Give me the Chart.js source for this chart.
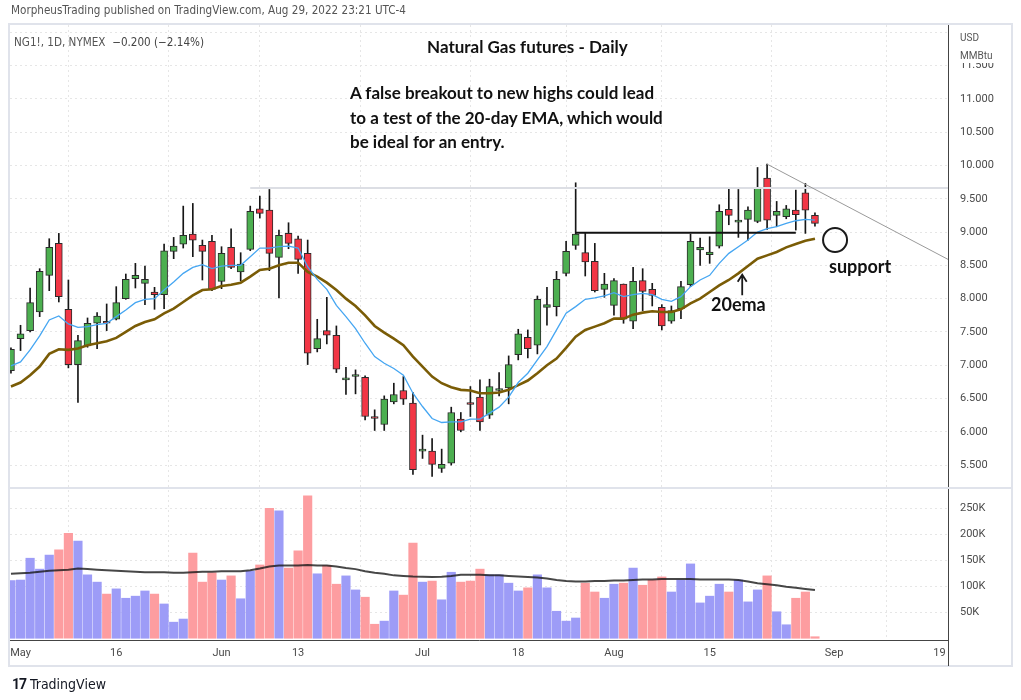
<!DOCTYPE html>
<html>
<head>
<meta charset="utf-8">
<title>Natural Gas futures - Daily</title>
<script src="https://cdn.jsdelivr.net/npm/chart.js@4.4.0/dist/chart.umd.min.js"></script>
<style>
  html, body { margin: 0; padding: 0; background: #fff; }
  #wrap { position: relative; width: 1021px; height: 700px; overflow: hidden; }
  #ngChart { position: absolute; left: 0; top: 0; }
  .txt { position: absolute; white-space: nowrap; line-height: 1; }
  .tv { font-family: 'Liberation Sans Narrow', 'DejaVu Sans Condensed', Roboto, sans-serif; color: #555; }
  .note { font-family: Lato, 'Open Sans', sans-serif; font-weight: bold; color: #111; }
  .unit { font-family: Roboto, sans-serif; font-size: 10px; color: #555; background: #fff; left: 960px; width: 45px; }
</style>
</head>
<body>
<div id="wrap">
  <canvas id="ngChart" width="1021" height="700"></canvas>

  <div class="txt tv" style="left:11px; top:5px; font-size:11.6px;">MorpheusTrading published on TradingView.com, Aug 29, 2022 23:21 UTC-4</div>
  <div class="txt tv" style="left:14px; top:37px; font-size:11.6px;">NG1!, 1D, NYMEX&nbsp; <span style="color:#444">−0.200 (−2.14%)</span></div>

  <div class="txt note" style="left:427px; top:38px; font-size:17px;">Natural Gas futures - Daily</div>
  <div class="txt note" style="left:350px; top:81px; font-size:17px; line-height:24.5px;">A false breakout to new highs could lead<br>to a test of the 20-day EMA, which would<br>be ideal for an entry.</div>
  <div class="txt note" style="left:829px; top:257px; font-size:18px;">support</div>
  <div class="txt note" style="left:711px; top:295px; font-size:18px;">20ema</div>

  <div class="txt unit" style="top:33px; height:14px;">USD</div>
  <div class="txt unit" style="top:51px; height:12px;">MMBtu</div>

  <div class="txt tv" style="left:12px; top:677px; font-size:14px; color:#131722;"><b style="font-family:Roboto, sans-serif; letter-spacing:-1px;">17</b> TradingView</div>
</div>

<script>
// bar dates (Apr 29 - Aug 30, 2022), one per trading day
var dates = ['Apr 29',
  'May 2', 'May 3', 'May 4', 'May 5', 'May 6', 'May 9', 'May 10', 'May 11', 'May 12', 'May 13',
  'May 16', 'May 17', 'May 18', 'May 19', 'May 20', 'May 23', 'May 24', 'May 25', 'May 26', 'May 27', 'May 31',
  'Jun 1', 'Jun 2', 'Jun 3', 'Jun 6', 'Jun 7', 'Jun 8', 'Jun 9', 'Jun 10', 'Jun 13', 'Jun 14', 'Jun 15', 'Jun 16', 'Jun 17',
  'Jun 21', 'Jun 22', 'Jun 23', 'Jun 24', 'Jun 27', 'Jun 28', 'Jun 29', 'Jun 30',
  'Jul 1', 'Jul 5', 'Jul 6', 'Jul 7', 'Jul 8', 'Jul 11', 'Jul 12', 'Jul 13', 'Jul 14', 'Jul 15',
  'Jul 18', 'Jul 19', 'Jul 20', 'Jul 21', 'Jul 22', 'Jul 25', 'Jul 26', 'Jul 27', 'Jul 28', 'Jul 29',
  'Aug 1', 'Aug 2', 'Aug 3', 'Aug 4', 'Aug 5', 'Aug 8', 'Aug 9', 'Aug 10', 'Aug 11', 'Aug 12',
  'Aug 15', 'Aug 16', 'Aug 17', 'Aug 18', 'Aug 19', 'Aug 22', 'Aug 23', 'Aug 24', 'Aug 25', 'Aug 26', 'Aug 29', 'Aug 30'];

var opens = [6.92,
  7.40, 7.52, 7.80, 8.35, 8.83, 7.84, 7.01, 7.29, 7.63, 7.66,
  7.69, 8.00, 8.30, 8.23, 8.10, 8.06, 8.71, 8.82, 8.97, 8.80, 8.86,
  8.26, 8.77, 8.40, 8.74, 9.35, 9.33, 8.62, 8.98, 8.90, 8.68, 7.25, 7.52, 7.45,
  6.78, 6.83, 6.82, 6.23, 6.11, 6.45, 6.62, 6.43,
  5.71, 5.71, 5.45, 5.53, 6.19, 6.44, 6.52, 6.25, 6.62, 6.66,
  7.16, 7.42, 7.30, 7.87, 7.88, 8.38, 8.80, 8.69, 8.56, 8.14,
  7.90, 8.22, 7.66, 8.27, 8.14, 7.87, 7.66, 7.85, 8.21, 8.73,
  8.66, 8.79, 9.34, 9.15, 9.19, 9.16, 9.81, 9.25, 9.23, 9.33, 9.59, 9.25];
var highs = [7.26,
  7.60, 8.16, 8.45, 8.90, 8.98, 8.28, 7.45, 7.71, 7.79, 7.92,
  8.18, 8.37, 8.53, 8.49, 8.17, 8.82, 8.92, 9.39, 9.43, 8.88, 8.95,
  8.78, 9.05, 8.69, 9.39, 9.54, 9.64, 9.03, 9.14, 8.94, 8.88, 7.69, 8.02, 7.59,
  6.97, 6.93, 6.84, 6.33, 6.54, 6.73, 6.83, 6.59,
  5.95, 5.90, 5.74, 6.37, 6.29, 6.68, 6.78, 6.79, 6.89, 7.14,
  7.54, 7.53, 8.04, 8.17, 8.41, 8.86, 9.74, 8.98, 8.83, 8.38,
  8.30, 8.22, 8.47, 8.45, 8.23, 7.91, 7.89, 8.26, 8.97, 8.91,
  8.93, 9.41, 9.66, 9.64, 9.38, 9.97, 10.02, 9.46, 9.40, 9.63, 9.73, 9.29];
var lows = [6.88,
  7.22, 7.50, 7.73, 8.12, 7.95, 6.96, 6.44, 7.27, 7.25, 7.52,
  7.68, 7.99, 8.16, 7.91, 7.84, 7.85, 8.60, 8.76, 8.63, 8.28, 8.12,
  8.15, 8.45, 8.27, 8.72, 9.21, 8.42, 8.01, 8.75, 8.38, 7.01, 7.20, 7.32, 6.89,
  6.56, 6.57, 6.18, 6.02, 6.02, 6.42, 6.41, 5.36,
  5.60, 5.33, 5.39, 5.50, 6.00, 6.23, 6.02, 6.20, 6.54, 6.42,
  7.08, 7.11, 7.17, 7.60, 7.74, 8.34, 8.74, 8.34, 8.10, 8.02,
  7.75, 7.63, 7.55, 7.82, 7.89, 7.53, 7.63, 7.70, 8.18, 8.50,
  8.53, 8.76, 9.11, 8.92, 8.88, 9.14, 9.04, 9.08, 9.20, 9.03, 8.98, 9.09];
var closes = [7.24,
  7.47, 7.94, 8.41, 8.77, 8.03, 7.01, 7.37, 7.63, 7.74, 7.63,
  7.94, 8.29, 8.35, 8.29, 8.06, 8.72, 8.79, 8.95, 8.88, 8.71, 8.14,
  8.68, 8.47, 8.52, 9.31, 9.28, 8.68, 8.95, 8.83, 8.59, 7.18, 7.40, 7.45, 6.94,
  6.81, 6.86, 6.23, 6.20, 6.49, 6.56, 6.49, 5.43,
  5.74, 5.51, 5.51, 6.29, 6.02, 6.41, 6.15, 6.68, 6.65, 7.01,
  7.47, 7.25, 7.99, 7.91, 8.29, 8.71, 8.97, 8.55, 8.12, 8.22,
  8.27, 7.69, 8.26, 8.11, 8.05, 7.59, 7.82, 8.18, 8.86, 8.77,
  8.70, 9.31, 9.25, 9.18, 9.33, 9.67, 9.18, 9.31, 9.35, 9.26, 9.33, 9.13];

// volume in thousands of contracts
var volumes = [111,
  112, 154, 133, 160, 170, 202, 187, 122, 108, 85,
  95, 77, 81, 91, 85, 66, 31, 37, 164, 108, 126,
  112, 120, 76, 129, 141, 250, 245, 135, 168, 274, 124, 140, 104,
  120, 93, 79, 27, 33, 91, 83, 183,
  108, 110, 74, 127, 108, 110, 133, 122, 122, 106,
  91, 97, 122, 97, 52, 33, 39, 106, 89, 77,
  104, 106, 135, 102, 112, 118, 89, 112, 143, 68,
  81, 104, 89, 112, 70, 93, 120, 51, 26, 77, 89, 3];

var ema10 = [6.99,
  7.05, 7.23, 7.44, 7.68, 7.74, 7.62, 7.57, 7.58, 7.61, 7.63,
  7.73, 7.83, 7.94, 7.99, 8.00, 8.13, 8.25, 8.38, 8.47, 8.51, 8.45,
  8.49, 8.50, 8.50, 8.63, 8.76, 8.76, 8.78, 8.79, 8.76, 8.48, 8.29, 8.14, 7.90,
  7.73, 7.55, 7.33, 7.13, 7.03, 6.95, 6.85, 6.58,
  6.38, 6.20, 6.14, 6.15, 6.15, 6.19, 6.19, 6.28, 6.37, 6.52,
  6.74, 6.88, 7.08, 7.28, 7.53, 7.78, 7.88, 7.99, 8.01, 8.04,
  8.09, 8.03, 8.06, 8.08, 8.06, 7.99, 7.96, 8.03, 8.18, 8.28,
  8.35, 8.53, 8.68, 8.78, 8.88, 9.00, 9.05, 9.08, 9.13, 9.17, 9.19, 9.18];
var ema20 = [6.68,
  6.74, 6.85, 6.98, 7.17, 7.24, 7.23, 7.25, 7.30, 7.33, 7.36,
  7.41, 7.50, 7.59, 7.65, 7.69, 7.78, 7.85, 7.95, 8.05, 8.13, 8.14,
  8.19, 8.21, 8.24, 8.33, 8.43, 8.45, 8.50, 8.54, 8.54, 8.40, 8.33, 8.24, 8.13,
  8.00, 7.89, 7.75, 7.59, 7.49, 7.40, 7.30, 7.13,
  6.98, 6.83, 6.73, 6.67, 6.63, 6.62, 6.58, 6.58, 6.59, 6.63,
  6.70, 6.77, 6.88, 7.00, 7.10, 7.26, 7.43, 7.53, 7.58, 7.63,
  7.70, 7.70, 7.76, 7.79, 7.81, 7.80, 7.80, 7.84, 7.93, 8.00,
  8.10, 8.20, 8.28, 8.38, 8.49, 8.60, 8.65, 8.70, 8.77, 8.82, 8.87, 8.90];
var volumeMa = [124,
  125, 126, 128, 130, 131, 132, 134, 133, 132, 131,
  130, 129, 128, 127, 127, 127, 126, 126, 127, 128, 128,
  129, 129, 129, 131, 134, 138, 140, 140, 140, 141, 140, 140, 138,
  135, 133, 129, 126, 124, 121, 120, 119,
  118.5, 118, 118.5, 120, 122, 122, 122, 121, 121, 120,
  119, 118, 117, 115, 112, 110, 109, 109, 110, 110,
  111, 111, 112, 113, 113, 114, 114, 114, 114, 113,
  113, 113, 113, 112, 109, 106, 104, 102, 99, 97, 95, 93];

// axis ticks
var tickIndex = [1, 11, 22, 30, 43, 53, 63, 73, 86, 97];
var tickLabels = ['May', '16', 'Jun', '13', 'Jul', '18', 'Aug', '15', 'Sep', '19'];
var priceTicks = [5.5, 6, 6.5, 7, 7.5, 8, 8.5, 9, 9.5, 10, 10.5, 11, 11.5, 12];
var volumeTicks = [50, 100, 150, 200, 250];

// drawings (bar index, price)
var resistance = { from: 25, price: 9.66 };
var breakout = { from: 59, to: 82, price: 8.99 };
var trendline = { x1: 79, y1: 10.02, x2: 97.9, y2: 8.59 };
var supportMark = { x: 86.1, price: 8.88 };
var emaArrow = { x: 76.4, from: 8.05, to: 8.36 };

var idx = dates.map(function (d, i) { return i; });
var up = idx.map(function (i) { return closes[i] >= opens[i]; });

var chartDrawings = {
    id: 'chartDrawings',
    afterDatasetsDraw: function (chart) {
        var ctx = chart.ctx, a = chart.chartArea;
        var x = chart.scales.x, y = chart.scales.y, yv = chart.scales.yVol;
        ctx.save();
        ctx.beginPath();
        ctx.rect(a.left, y.top, a.right - a.left, y.bottom - y.top);
        ctx.clip();

        ctx.strokeStyle = '#dcdee4';
        ctx.lineWidth = 2;
        ctx.beginPath();
        ctx.moveTo(x.getPixelForValue(resistance.from), y.getPixelForValue(resistance.price));
        ctx.lineTo(a.right, y.getPixelForValue(resistance.price));
        ctx.stroke();

        ctx.strokeStyle = '#111';
        ctx.lineWidth = 2;
        ctx.beginPath();
        ctx.moveTo(x.getPixelForValue(breakout.from), y.getPixelForValue(breakout.price));
        ctx.lineTo(x.getPixelForValue(breakout.to), y.getPixelForValue(breakout.price));
        ctx.stroke();

        ctx.strokeStyle = '#9a9a9a';
        ctx.lineWidth = 1;
        ctx.beginPath();
        ctx.moveTo(x.getPixelForValue(trendline.x1), y.getPixelForValue(trendline.y1));
        ctx.lineTo(x.getPixelForValue(trendline.x2), y.getPixelForValue(trendline.y2));
        ctx.stroke();

        ctx.strokeStyle = '#1a1a1a';
        ctx.lineWidth = 2;
        ctx.beginPath();
        ctx.arc(x.getPixelForValue(supportMark.x), y.getPixelForValue(supportMark.price), 12, 0, Math.PI * 2);
        ctx.stroke();

        var ax = x.getPixelForValue(emaArrow.x);
        var ay1 = y.getPixelForValue(emaArrow.from), ay2 = y.getPixelForValue(emaArrow.to);
        ctx.lineWidth = 1.8;
        ctx.beginPath();
        ctx.moveTo(ax, ay1);
        ctx.lineTo(ax, ay2);
        ctx.moveTo(ax - 4.5, ay2 + 7);
        ctx.lineTo(ax, ay2);
        ctx.lineTo(ax + 4.5, ay2 + 7);
        ctx.stroke();
        ctx.restore();

        // pane separator, frame, axis line through the date row
        ctx.save();
        ctx.strokeStyle = '#e0e3eb';
        ctx.lineWidth = 2;
        ctx.beginPath();
        ctx.moveTo(a.left, yv.top);
        ctx.lineTo(1012, yv.top);
        ctx.stroke();
        ctx.strokeRect(9, 24, 1003, 642);
        ctx.strokeStyle = '#444';
        ctx.lineWidth = 1;
        ctx.beginPath();
        ctx.moveTo(Math.round(a.right) + 0.5, a.bottom);
        ctx.lineTo(Math.round(a.right) + 0.5, 666);
        ctx.stroke();
        ctx.restore();
    }
};

var gridStyle = { color: '#e6e6e6', lineWidth: 1, drawTicks: false };
var tickFont = { family: 'Roboto, sans-serif', size: 11 };

var ctx = document.getElementById('ngChart').getContext('2d');
var myChart = new Chart(ctx, {
    type: 'bar',
    data: {
        datasets: [{
            type: 'line',
            label: 'EMA 10',
            data: idx.map(function (i) { return { x: i, y: ema10[i] }; }),
            borderColor: '#45a6f2',
            borderWidth: 1.3,
            pointRadius: 0,
            tension: 0,
            yAxisID: 'y',
            order: 1,
            clip: 0
        }, {
            type: 'line',
            label: 'EMA 20',
            data: idx.map(function (i) { return { x: i, y: ema20[i] }; }),
            borderColor: '#7a5c06',
            borderWidth: 2.6,
            pointRadius: 0,
            tension: 0,
            yAxisID: 'y',
            order: 2,
            clip: 0
        }, {
            label: 'Body',
            data: idx.map(function (i) { return { x: i, y: [opens[i], closes[i]] }; }),
            backgroundColor: up.map(function (u) { return u ? '#4caf50' : '#f23645'; }),
            borderColor: '#2b2b2b',
            borderWidth: 1,
            borderSkipped: false,
            barThickness: 7,
            minBarLength: 2,
            grouped: false,
            yAxisID: 'y',
            order: 3,
            clip: 0
        }, {
            label: 'Wick',
            data: idx.map(function (i) { return { x: i, y: [lows[i], highs[i]] }; }),
            backgroundColor: '#161616',
            borderWidth: 0,
            barThickness: 1,
            grouped: false,
            yAxisID: 'y',
            order: 4,
            clip: 0
        }, {
            type: 'line',
            label: 'Volume MA',
            data: idx.map(function (i) { return { x: i, y: volumeMa[i] }; }),
            borderColor: 'rgba(25, 25, 25, 0.8)',
            borderWidth: 2,
            pointRadius: 0,
            yAxisID: 'yVol',
            order: 5,
            clip: 0
        }, {
            label: 'Volume',
            data: idx.map(function (i) { return { x: i, y: volumes[i] }; }),
            backgroundColor: up.map(function (u) { return u ? '#9d9cf7' : '#fd9da0'; }),
            barThickness: 8.5,
            grouped: false,
            yAxisID: 'yVol',
            order: 6,
            clip: 0
        }]
    },
    options: {
        responsive: false,
        animation: false,
        events: [],
        layout: { padding: { left: 10, top: 25, right: 9, bottom: 35 } },
        plugins: { legend: { display: false }, tooltip: { enabled: false } },
        scales: {
            x: {
                type: 'linear',
                min: -0.1,
                max: 97.9,
                offset: false,
                afterBuildTicks: function (s) { s.ticks = tickIndex.map(function (v) { return { value: v }; }); },
                afterFit: function (s) { s.height = 25; },
                ticks: {
                    autoSkip: false,
                    maxRotation: 0,
                    padding: 7,
                    color: '#4a4a4a',
                    font: tickFont,
                    callback: function (v, i) { return tickLabels[i]; }
                },
                grid: gridStyle,
                border: { color: '#444', width: 1, dash: [2, 3] }
            },
            y: {
                type: 'linear',
                position: 'right',
                stack: 'panes',
                stackWeight: 463,
                min: 5.156,
                max: 12.11,
                afterBuildTicks: function (s) { s.ticks = priceTicks.map(function (v) { return { value: v }; }); },
                afterFit: function (s) { s.width = 64; },
                ticks: {
                    padding: 12,
                    color: '#4a4a4a',
                    font: tickFont,
                    callback: function (v) { return v >= 12 ? '' : v.toFixed(3); }
                },
                grid: gridStyle,
                border: { color: '#444', width: 1, dash: [2, 3] }
            },
            yVol: {
                type: 'linear',
                position: 'right',
                stack: 'panes',
                stackWeight: 152,
                min: -3.3,
                max: 289,
                afterBuildTicks: function (s) { s.ticks = volumeTicks.map(function (v) { return { value: v }; }); },
                afterFit: function (s) { s.width = 64; },
                ticks: {
                    padding: 12,
                    color: '#4a4a4a',
                    font: tickFont,
                    callback: function (v) { return v + 'K'; }
                },
                grid: gridStyle,
                border: { color: '#444', width: 1, dash: [2, 3] }
            }
        }
    },
    plugins: [chartDrawings]
});
</script>
</body>
</html>
